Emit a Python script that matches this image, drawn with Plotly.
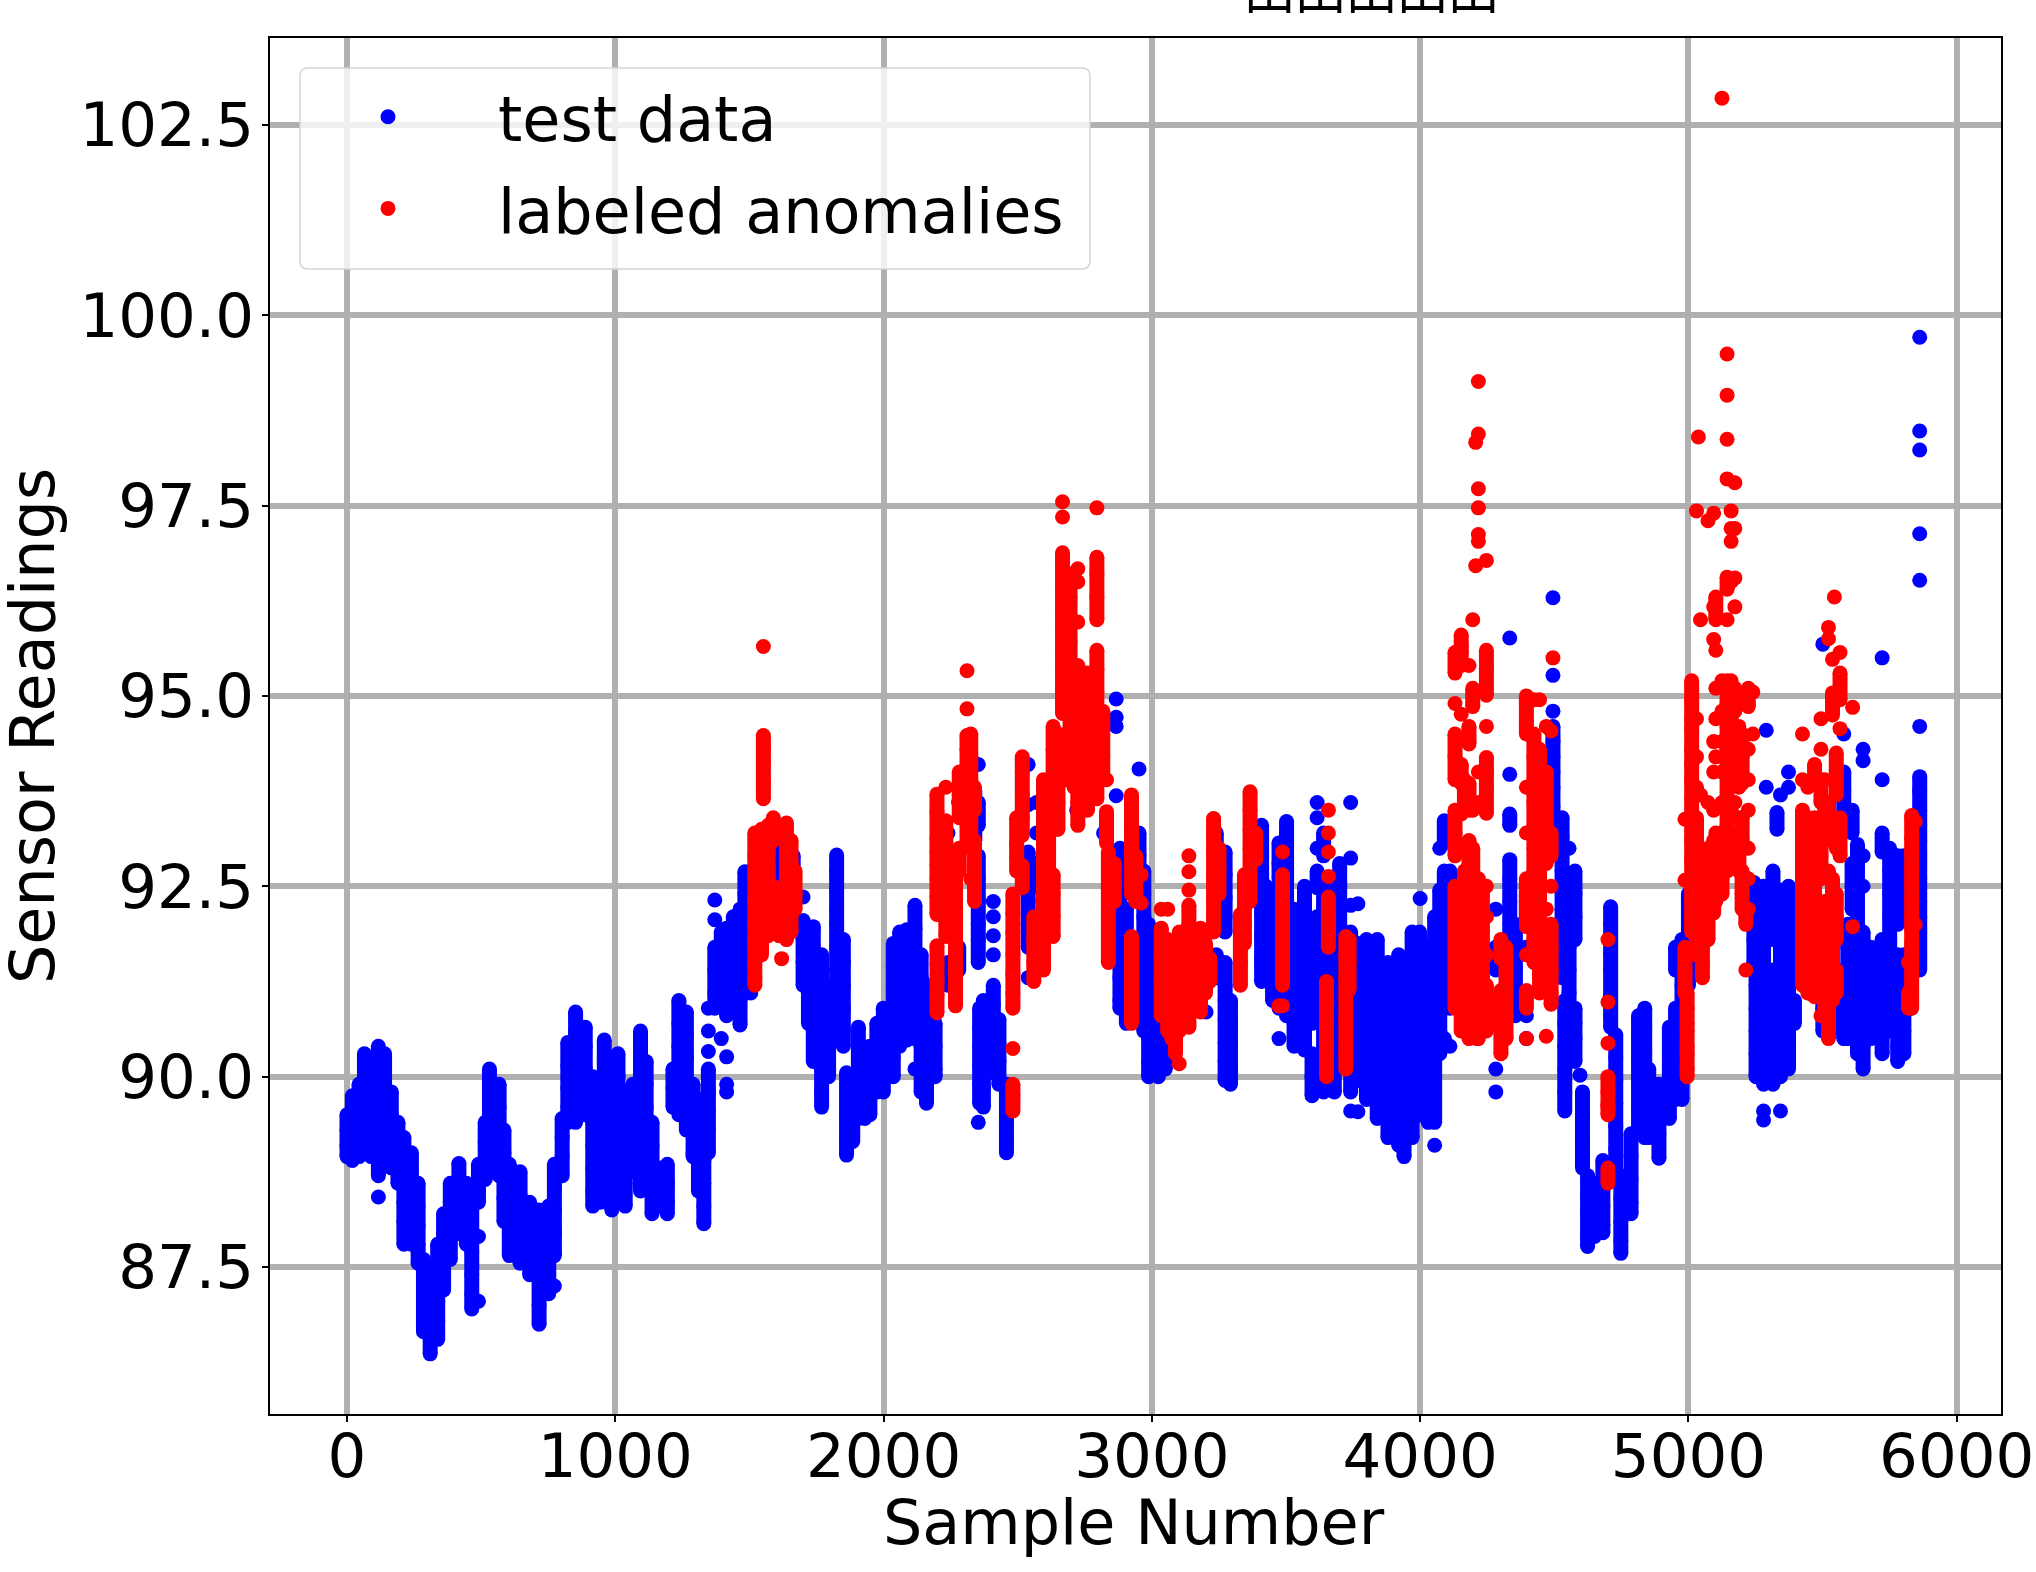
import plotly.graph_objects as go

# Values: (sample number, [sensor readings seen around that sample])
blue_a = [
(0,[89.5,89.3,89.1,88.95]),(20,[89.75,89.55,89.3,89.05,88.9]),(45,[89.9,89.65,89.4,89.15,88.95]),
(65,[90.3,90.05,89.8,89.55,89.3,89.1]),(90,[90.15,89.9,89.6,89.35,89.15,88.95]),
(117,[90.4,90.15,89.9,89.6,89.3,89.0,88.7]),(140,[90.3,90.05,89.75,89.45,89.15,88.9]),
(165,[89.8,89.5,89.25,89.0,88.8]),(190,[89.4,89.1,88.85,88.6]),(212,[89.2,88.9,88.6,88.35,88.1,87.8]),
(240,[89.0,88.75,88.5,88.25,88.0,87.8]),(265,[88.6,88.3,88.05,87.8,87.55]),(285,[87.6,87.35,87.1,86.85,86.65]),
(310,[87.2,87.0,86.8,86.6,86.36]),(338,[87.8,87.55,87.3,87.05,86.8,86.55]),(360,[88.2,87.95,87.7,87.45,87.2]),
(385,[88.6,88.35,88.1,87.85,87.6]),(417,[88.86,88.6,88.35,88.1,87.94]),(445,[88.6,88.35,88.1,87.8]),
(465,[88.3,88.0,87.7,87.4,87.15,86.95]),(490,[88.85,88.6,88.35,87.9,87.05]),(515,[89.4,89.15,88.9,88.65]),
(531,[90.1,89.85,89.6,89.35,89.1]),(567,[89.9,89.6,89.3,89.0,88.7]),(585,[89.3,89.0,88.7,88.4,88.1]),
(605,[88.85,88.55,88.25,87.95,87.65]),(645,[88.75,88.45,88.15,87.85,87.55]),(681,[88.35,88.05,87.75,87.4]),
(716,[88.25,87.95,87.65,87.35,87.0,86.75]),(752,[88.3,88.0,87.7,87.4,87.15]),(773,[88.85,88.55,88.25,87.95,87.65,87.25]),
(802,[89.45,89.2,88.95,88.7]),(823,[90.45,90.15,89.85,89.6,89.4]),(852,[90.85,90.6,90.3,90.0,89.7,89.4]),
(888,[90.65,90.4,90.1,89.8,89.5]),(916,[90.0,89.7,89.4,89.1,88.8,88.5,88.3]),(945,[89.6,89.3,89.0,88.7,88.35]),
(959,[90.48,90.2,89.95,89.7]),(987,[89.8,89.5,89.2,88.9,88.6,88.25]),
]
blue_b = [
(1010,[90.3,90.0,89.7,89.4,89.1,88.85,88.4]),(1037,[89.8,89.5,89.2,88.9,88.6,88.3]),(1065,[89.9,89.6,89.3,89.0,88.75]),
(1094,[90.6,90.3,90.0,89.7,89.4,89.1,88.85,88.5]),(1115,[90.2,89.9,89.6,89.3,89.0,88.7]),(1137,[89.4,89.1,88.8,88.5,88.2]),
(1165,[88.8,88.55,88.3]),(1194,[88.85,88.6,88.35,88.2]),(1215,[90.1,89.85,89.6]),(1237,[91.0,90.7,90.4,90.1,89.8,89.5]),
(1265,[90.85,90.55,90.25,89.95,89.65,89.3]),(1290,[89.9,89.6,89.3,89.0,88.95]),(1310,[89.7,89.4,89.1,88.8,88.5]),
(1330,[89.5,89.2,88.9,88.6,88.3,88.07]),(1347,[90.1,89.8,89.56,89.3,89.0]),
(1371,[91.7,91.4,91.1,90.9]),(1395,[91.9,91.6,91.3,91.0]),(1415,[91.95,91.65,91.35,91.05,90.8]),
(1440,[92.1,91.8,91.5,91.2,90.9]),(1465,[92.2,91.9,91.6,91.3,91.0,90.68]),(1483,[92.69,92.4,92.1,91.8,91.5,91.2]),
(1505,[92.7,92.4,92.1,91.8,91.5,91.1]),(1610,[92.95,92.6,92.3]),(1663,[92.9,92.6,92.3,92.0]),
(1700,[92.05,91.8,91.5,91.2]),(1720,[91.9,91.6,91.3,91.0,90.7]),(1738,[91.97,91.7,91.4,91.1,90.8,90.5,90.2]),
(1769,[91.6,91.3,91.0,90.7,90.4,90.1,89.8,89.6]),(1795,[91.2,90.9,90.6,90.3,90.0]),
(1825,[92.91,92.7,92.45,92.2,92.0,91.7,91.4,91.1,90.8,90.5]),(1850,[91.8,91.5,91.2,90.9,90.6,90.4]),
(1862,[90.05,89.75,89.45,89.2,88.97]),(1885,[90.0,89.7,89.4,89.15]),(1906,[90.65,90.35,90.05,89.75,89.45]),
(1930,[90.2,89.9,89.6,89.45]),(1949,[90.4,90.1,89.8,89.5]),(1975,[90.7,90.4,90.1,89.8]),(1999,[90.9,90.6,90.3,90.0,89.8]),
]
blue_c = [
(2036,[91.75,91.45,91.15,90.85,90.55,90.25,90.0]),(2060,[91.9,91.6,91.3,91.0,90.7,90.4]),
(2086,[91.93,91.65,91.35,91.05,90.75,90.48]),(2117,[92.25,91.95,91.65,91.35,91.05,90.75,90.5,90.1]),
(2140,[91.6,91.3,91.0,90.7,90.4,90.1,89.8]),(2160,[91.2,90.9,90.6,90.3,90.0,89.65]),(2192,[90.7,90.4,90.1,90.0]),
(2240,[91.5,91.2]),(2280,[91.7,91.4]),(2340,[93.75,93.4,93.1]),
(2353,[93.6,93.3,92.9,92.6,92.3,92.0,91.8,91.5]),(2358,[90.9,90.65,90.4,90.15,89.9,89.65]),
(2372,[91.0,90.7,90.4,90.1,89.85,89.6]),(2390,[90.95,90.6,90.3,90.05]),
(2409,[91.2,90.95,90.6,90.35]),(2430,[90.75,90.45,90.2,89.9]),
(2458,[89.9,89.65,89.4,89.15,89.0]),(2539,[92.95,92.6,92.3,92.0,91.7]),
(2570,[93.6,93.2,92.8,92.5,92.1,91.7]),(2640,[93.9,93.5]),(2720,[93.5]),(2820,[93.2]),
(2881,[93.0,92.75,92.5,92.2,91.9,91.6,91.3,91.0,90.9]),
(2905,[92.2,91.9,91.6,91.3,91.0,90.7]),(2952,[93.2,92.9,92.6,92.3]),
(2970,[92.7,92.4,92.1,91.8,91.5,91.2,90.9,90.6]),(2988,[92.0,91.7,91.4,91.1,90.8,90.5,90.2,90.0]),
]
blue_d = [
(3024,[91.7,91.4,91.1,90.8,90.5,90.2,90.0]),(3050,[91.7,91.2,90.9,90.6,90.3,90.1]),(3110,[91.6,90.7]),
(3202,[91.5,90.85]),(3240,[93.2,92.9,91.6,91.3]),
(3273,[92.95,92.65,92.35,92.1,91.9,91.5,91.2,91.0,90.75,90.45,90.2,89.95]),(3293,[91.0,90.7,90.4,90.15,89.9]),
(3409,[93.3,93.0,92.75,92.45,92.15,91.85,91.55,91.25]),(3426,[92.5,92.2,91.9,91.6,91.3]),
(3450,[92.45,92.15,91.85,91.55,91.3,91.0]),(3474,[93.07,92.8,92.6,92.1,91.8,91.5,91.2,90.9]),
(3502,[93.35,93.2,92.9,92.6,92.3,92.0,91.7,91.4,91.1,90.8]),(3530,[92.2,91.9,91.6,91.3,91.0,90.7,90.4]),
(3569,[92.5,92.2,91.9,91.75,91.45,91.15,90.85,90.55,90.35]),(3597,[91.6,91.3,91.0,90.7,90.3,90.0,89.75]),
(3616,[92.7,92.48,92.1,91.8,91.5]),(3640,[93.2,92.9,92.5,92.2,91.9,91.6,91.3,91.0,90.7,90.4,90.1,89.8]),
(3680,[92.5,92.2,91.9,91.6,91.3,91.0,90.7,90.4,90.1,89.8]),(3700,[92.8,92.5,92.2,91.9,91.6,91.3,91.0,90.7,90.4]),
(3741,[91.9,91.6,91.3,91.0,90.7,90.4,90.1,89.8]),
(3768,[91.75,91.45,91.15,90.85,90.55,90.25,89.95]),(3800,[91.8,91.5,91.2,90.9,90.6,90.3,90.0,89.7]),
(3840,[91.8,91.5,91.2,90.9,90.6,90.3,90.0,89.7,89.45]),(3880,[91.5,91.2,90.9,90.6,90.3,90.0,89.7,89.4,89.2]),
(3920,[91.6,91.3,91.0,90.7,90.4,90.1,89.8,89.5,89.2,89.1]),(3940,[91.3,91.0,90.7,90.4,90.1,89.8,89.5,89.2,88.95]),
(3970,[91.9,91.6,91.3,91.0,90.7,90.4,90.1,89.8,89.5,89.2]),(3998,[91.9,91.6,91.3,91.0,90.7,90.4,90.1,89.8,89.5]),
]
blue_e = [
(4030,[91.7,91.4,91.1,90.8,90.5,90.2,89.9,89.6,89.4]),(4054,[92.1,91.8,91.5,91.2,90.9,90.6,90.3,90.0,89.7,89.4]),
(4073,[92.45,92.1,91.8,91.5,91.2,90.9,90.6,90.3]),(4090,[93.36,93.07,92.7,92.4,92.1,91.8,91.5,91.2,90.9,90.5]),
(4111,[93.3,92.7,92.4,91.8,91.5,91.2,90.9,90.4]),(4240,[91.1,90.8]),(4282,[92.2,91.7,91.4]),
(4334,[93.45,93.3,92.85,92.6,92.3,92.0,91.7]),(4355,[92.0,91.7,91.4,91.1,90.8]),(4396,[92.4,92.1,91.7]),
(4495,[94.6,94.4,94.2,94.0,93.8,93.55,93.2]),(4529,[93.4,93.15,93.0,92.7,92.5,92.2,91.9,91.6,91.3]),
(4555,[93.0,92.6,92.3,92.0,91.7,91.4,91.1,90.8,90.5]),(4577,[92.7,92.4,92.1,91.8,90.9,90.7,90.5,90.2]),
(4539,[91.0,90.7,90.4,90.1,89.8,89.55]),(4605,[89.8,89.5,89.2,89.0,88.8]),
(4624,[88.7,88.45,88.2,87.95,87.77]),(4650,[88.6,88.35,88.1,87.9]),(4681,[88.9,88.6,88.3,88.05,87.95]),
(4710,[92.23,92.0,91.75,91.6,91.4,91.05,90.8,90.65]),(4729,[90.55,90.25,89.95,89.65,89.35,89.05,88.8]),
(4748,[88.7,88.4,88.1,87.85,87.68]),(4786,[89.25,88.95,88.65,88.35,88.2]),(4814,[90.8,90.5,90.2,89.9,89.6,89.3]),
(4837,[90.9,90.6,90.3,90.0,89.7]),(4852,[90.1,89.8,89.5,89.2]),(4890,[89.9,89.6,89.25,88.93]),
(4929,[90.65,90.35,90.05,89.75,89.45]),(4952,[91.7,91.4,90.9,90.6,90.3,90.0,89.7]),
(4976,[91.8,91.5,91.2,90.9,90.6,90.3,90.0,89.7]),
]
blue_f = [
(5000,[92.4,92.1,91.8,91.5,91.2]),(5244,[92.55,92.3,92.0,91.8,91.5]),(5252,[91.8,91.5,91.2,90.9,90.6,90.3,90.0]),
(5280,[92.5,92.2,91.9,91.6,91.3,91.0,90.7,90.4,90.1,89.9]),
(5315,[92.7,92.4,92.1,91.8,91.4,91.1,90.8,90.5,90.2,89.9]),(5330,[93.47,93.25]),
(5343,[92.45,92.1,91.8,91.5,91.2,90.9,90.6,90.3,90.0]),(5373,[92.5,92.2,91.9,91.6,91.3,91.0,90.7,90.4,90.1]),
(5395,[92.3,91.9,91.5,91.0,90.7]),(5450,[91.4,91.1]),(5501,[92.0,91.6,91.2,90.9,90.6]),
(5530,[90.9,90.6]),(5579,[94.0,93.75,93.45,91.4,91.1,90.8,90.5]),(5594,[92.0,91.7,91.4,91.1,90.8,90.5]),
(5610,[93.5,93.2,92.8,92.5,92.2]),(5630,[93.05,92.75,92.45,92.15,91.85,91.5,91.2,90.9,90.6,90.3]),
(5651,[92.9,92.5,91.9,91.6,91.3,91.0,90.7,90.4,90.1]),(5680,[91.7,91.4,91.1,90.8,90.5]),
(5722,[93.2,92.95,91.8,91.5,91.2,90.9,90.6,90.3]),(5750,[93.0,92.7,92.4,92.1,91.8,91.5,91.2,90.9,90.6]),
(5780,[92.9,92.6,92.3,92.0,91.6,91.3,91.0,90.7,90.4,90.2]),(5803,[92.9,92.5,92.1,91.6,91.2,90.9,90.6,90.3]),
(5830,[92.2,91.6,91.2,90.9]),(5862,[93.94,93.75,93.5,93.3,93.1,92.9,92.6,92.3,92.1,91.9,91.6,91.4]),
]
# Separately visible single blue dots: samples and readings
blue_single_x = [117,1347,1347,1347,1371,1371,1395,1415,1415,1415,1700,2240,2280,2353,2353,2409,2409,2409,2409,2539,2539,2539,2867,2867,2867,2867,2952,3474,3616,3616,3616,3616,3741,3741,3741,3741,3768,3768,4000,4054,4073,4282,4282,4334,4334,4396,4396,4495,4495,4495,4596,4837,5280,5280,5290,5290,5343,5343,5373,5373,5450,5450,5501,5579,5651,5651,5722,5722,5862,5862,5862,5862,5862,5862]
blue_single_y = [88.42,90.9,90.6,90.33,92.32,92.06,90.5,90.26,89.9,89.8,92.36,93.2,93.6,94.1,89.4,92.3,92.1,91.85,91.6,94.1,93.57,91.3,94.96,94.72,94.6,93.69,94.04,90.5,93.6,93.4,93.0,89.9,93.6,92.87,92.25,89.55,92.27,89.54,92.34,89.1,93.0,90.1,89.8,95.76,93.97,90.8,90.5,96.29,95.27,94.8,90.02,89.2,89.55,89.43,94.55,93.8,93.7,89.55,94.0,93.8,93.3,92.4,95.68,94.5,94.3,94.15,95.5,93.9,99.71,98.48,98.23,97.13,96.52,94.6]

red_a = [
(1520,[93.2,92.9,92.6,92.3,92.0,91.75,91.5,91.3,91.2]),(1545,[93.25,92.95,92.65,92.35,92.05,91.8,91.6]),
(1552,[94.48,94.3,94.15,93.85,93.65]),(1570,[93.3,93.0,92.7,92.4,92.1,91.85]),(1589,[93.4,93.1,92.5,92.2,91.9]),
(1610,[92.4,92.1,91.85]),(1638,[93.33,93.0,92.7,92.4,92.1,91.8]),(1655,[93.1,92.8,92.5,92.2,91.9]),(1670,[92.7,92.4,92.2]),
]
red_b = [
(2199,[93.71,93.48,93.13,92.95,92.78,92.6,92.37,92.13,91.72,91.48,91.25,91.07,90.84]),
(2232,[93.8,93.36,93.07,92.8,92.5,92.2,91.84]),(2268,[92.95,92.65,92.37,92.07,91.78,91.55,91.25,91.13,90.93]),
(2282,[94.0,93.7,93.4,93.0,92.7]),(2311,[94.48,94.3,94.05,93.8,93.6,93.35,93.07]),
(2325,[94.5,94.2,93.9,93.6,93.3,93.0,92.6]),(2339,[93.8,93.5,93.1,92.75,92.48,92.3]),
(2482,[92.4,92.15,91.9,91.6,91.35,91.1,90.9,89.9,89.75,89.55]),(2496,[93.4,93.05,92.88,92.7]),
(2517,[94.2,94.0,93.7,93.4,93.17,92.77,92.48]),(2560,[92.1,91.8,91.5,91.25]),
(2596,[93.9,93.7,93.4,93.1,92.8,92.5,92.2,91.9,91.6,91.4]),(2615,[93.2,92.9,92.6,92.3,92.0]),
(2632,[94.6,94.3,94.0,93.6,92.65,92.4,92.1,91.84]),(2650,[94.5,94.2,93.9,93.6,93.25]),
(2667,[96.88,96.7,96.4,96.1,95.85,95.6,95.35,95.05,94.77]),(2680,[96.5,96.2,95.9,95.5,95.2,94.9,94.5,94.2,93.9]),
(2695,[96.6,96.3,96.0,95.7,95.4,95.1,94.8,94.5,94.2,93.9]),(2710,[95.4,95.1,94.8,94.5,94.2,93.8]),
(2724,[95.97,95.4,95.1,94.8,94.5,94.2,93.9,93.6,93.3]),(2745,[95.3,95.0,94.6,94.3,94.0,93.7]),(2760,[95.3,95.0,94.7,94.4,94.1,93.8,93.5]),
(2778,[95.2,94.9,94.5,94.2,93.9]),(2795,[96.82,96.6,96.3,96.0,95.6,95.35,95.05,94.75,94.45,94.15,93.85,93.65]),
(2817,[94.8,94.5,94.2,93.95]),(2831,[93.9,93.48,93.25,93.07]),(2838,[92.95,92.7,92.45,92.2,92.0,91.78,91.5]),
(2860,[92.8,92.5,92.3]),(2924,[93.7,93.48,93.25,93.0,92.85,92.6,92.4,91.84,91.55,91.25,91.0,90.7]),
(2940,[92.9,92.55,92.3]),(2960,[92.65,92.28]),
]
red_c = [
(3035,[91.95,91.6,91.3,91.0,90.8]),(3059,[91.8,91.5,91.2,90.9,90.6]),(3074,[91.7,91.4,91.1,90.8,90.5]),
(3088,[91.8,91.5,91.2,90.9,90.6,90.45,90.3]),(3102,[91.9,91.5,91.2,90.9,90.6]),(3120,[91.9,91.6,91.3,91.0,90.7]),
(3138,[92.25,92.0,91.7,91.4,91.1,90.8,90.65]),(3160,[91.8,91.5,91.2,90.9]),
(3181,[91.95,91.6,91.3,91.0,90.85]),(3200,[91.75,91.4,91.1]),(3216,[91.55,91.25]),(3230,[93.39,93.2,92.95,92.65,92.35,92.1,91.9]),
(3250,[93.0,92.7,92.4]),(3330,[92.13,91.8,91.5,91.2]),(3345,[92.65,92.35,92.0,91.75]),
(3366,[93.74,93.5,93.25,93.0,92.66,92.3]),(3387,[93.2,92.95,92.85]),
(3487,[92.65,92.43,92.2,91.9,91.7,91.4,91.2]),
(3658,[92.36,92.1,91.95,91.7]),(3651,[91.25,91.05,90.84,90.5,90.3,90.0]),
(3723,[91.84,91.6,91.3,91.0,90.75,90.45,90.3,90.1]),(3735,[91.8,91.5,91.15]),
]
red_d = [
(4130,[95.57,95.3,94.9,94.5,94.2,93.9,93.5,93.2,92.9,92.5,92.15,91.85,91.5,91.2,90.9]),
(4153,[95.8,95.65,95.57,95.4,94.1,93.85,93.45,92.5,92.2,91.8,91.5,91.2,90.85,90.6]),
(4165,[93.9,93.6,92.7,92.4,92.1,91.8,91.5,91.2,90.9,90.6]),
(4182,[95.4,94.6,94.37,93.85,93.5,93.1,92.9,92.55,92.3,92.0,91.7,91.4,91.1,90.8,90.5]),
(4196,[95.1,94.86,93.5,93.0,92.7,92.4,92.0,91.7,91.4,91.1,90.8]),
(4217,[94.0,93.6,92.6,92.2,91.9,91.6,91.3,91.0,90.7,90.5]),(4232,[92.5,92.2,91.9,91.6,91.3,91.0,90.7]),
(4247,[95.6,95.36,95.01,94.6,94.19,94.0,93.8,93.46,92.5,92.1,91.6,91.2,90.9,90.6]),
(4301,[91.8,91.55,91.13,90.85,90.6,90.3]),(4320,[91.7,91.4,91.1,90.8,90.5]),
(4396,[95.0,94.65,94.5,93.8,92.6,92.3,91.97,91.6,91.13,90.9]),(4424,[94.95,94.5,94.2,93.9,93.6,93.3,93.0,92.7,92.4,92.1,91.8,91.5]),
(4445,[94.95,94.3,94.0,93.7,93.45,93.15,92.85,92.55,92.25,91.95,91.6,91.3,91.1]),(4470,[94.6,94.0,93.7,93.4,93.1,92.8,92.2,91.8,91.5,91.2]),
(4488,[94.54,93.2,92.9,92.5,92.0,91.7,91.4,91.1,90.95]),
]
red_e = [
(4700,[90.0,89.8,89.63,89.5,88.8,88.6]),
(4995,[91.1,90.9,90.7,90.6,90.4,90.3,90.1,90.0]),
(4987,[91.7,91.4,91.1]),(5012,[95.2,94.95,94.7,94.57,94.3,94.1,93.9,93.65,93.4,93.1,92.85,92.55,92.3,92.05,91.9]),
(5030,[94.7,94.2,93.8,93.4,93.1,92.8,92.5,92.2,91.95,91.6]),(5045,[93.7,92.9,92.3]),
(5052,[92.0,91.7,91.5,91.3]),(5073,[93.6,93.0,92.7,92.4,92.1,91.8]),(5094,[94.4,94.0,93.5,93.1,92.7,92.4,92.15]),
(5102,[96.3,96.0,95.6,95.1,94.7,94.2,93.2,92.8,92.5,92.3]),(5125,[95.2,94.8,94.4,94.0,93.6,93.2,92.9,92.6,92.4]),
(5144,[96.56,96.4,96.0,95.2,94.9,94.6,94.3,94.0,93.65,93.3,92.95,92.7]),
(5159,[95.2,94.8,94.5,94.2,93.9,93.5,93.1,92.8]),(5173,[95.1,94.8,94.4,94.0,93.6,93.2,92.9]),
(5188,[95.0,94.6,94.2,93.8,93.4,93.0,92.7]),(5200,[94.95,94.5,94.2,93.85,93.4,93.1,92.7,92.4,92.2]),(5214,[92.2,92.0]),(5223,[95.1,94.86,94.3,93.9,93.5,93.0,92.6,92.2]),
(5240,[95.05,94.5]),
]
red_f = [
(5425,[93.9,93.5,93.25,92.9,92.6,92.3,92.1,91.8,91.5,91.2]),(5445,[93.8,93.4,93.05,92.7,92.4,92.0,91.7,91.4,91.1]),
(5470,[94.1,93.85,93.4,93.1,92.8,92.45,92.2,91.9,91.6,91.3,91.05]),(5494,[94.7,94.3,93.9,93.6,93.2,92.9,92.6,92.2,91.9,91.5,91.2,90.8]),
(5508,[93.9,93.5,93.1,92.3,92.0,91.6,91.2,90.9]),(5522,[93.6,93.25,92.7,92.3,91.9,91.6,91.3,91.0,90.7,90.5]),(5537,[95.04,94.75,92.6,92.3,92.0,91.7,91.4,91.0]),
(5551,[94.25,94.0,93.7,93.3,93.0,92.4,92.1,91.8,91.4,91.1]),
(5565,[95.3,94.95,94.57,93.4,93.15,92.9]),
(5820,[91.5,91.1,90.9]),(5832,[93.43,93.13,92.93,92.75,92.58,92.3,92.15,91.95,91.75,91.5,91.3,91.1,90.9]),
(5845,[93.35,92.0]),
]
# Separately visible single red dots: samples and readings
red_single_x = [1552,1620,2311,2311,2482,2646,2667,2667,2724,2724,2795,3035,3059,3102,3138,3138,3138,3474,3487,3487,3658,3658,3658,3658,4153,4196,4207,4207,4217,4217,4217,4217,4217,4217,4247,4212,4396,4396,4470,4495,4700,4700,4700,4700,4987,4987,5030,5037,5045,5073,5094,5094,5094,5125,5144,5144,5144,5144,5159,5159,5159,5159,5173,5173,5173,5173,5214,5425,5522,5522,5537,5544,5565,5612,5612]
red_single_y = [95.65,91.55,95.33,94.83,90.37,93.25,97.55,97.35,96.67,96.5,97.47,92.2,92.2,90.17,92.9,92.69,92.45,90.93,92.95,90.93,93.5,93.2,92.95,92.63,94.76,96.0,96.71,98.33,99.13,98.44,97.72,97.47,97.12,97.03,96.78,90.5,93.2,90.5,90.53,95.5,91.8,90.98,90.44,89.6,93.38,92.58,97.43,98.4,96.0,97.3,97.4,96.17,95.74,102.85,99.49,98.95,98.37,97.85,97.43,97.2,97.03,96.5,97.8,97.2,96.55,96.17,91.4,94.5,95.9,95.75,95.48,96.3,95.57,94.85,91.97]

tick_x = [0,1000,2000,3000,4000,5000,6000]
tick_y = [87.5,90.0,92.5,95.0,97.5,100.0,102.5]
legend_names = ["test data","labeled anomalies"]
x_label = "Sample Number"
y_label = "Sensor Readings"
title_text = "田田田田田"

def flatten(*blocks):
    xs, ys = [], []
    for block in blocks:
        for x, vals in block:
            for v in vals:
                xs.append(x); ys.append(v)
    return xs, ys

def runs(*blocks, gap=0.36):
    """Join neighbouring readings of one sample region, as the dense samples do in the picture."""
    xs, ys = [], []
    for block in blocks:
        for x, vals in block:
            vals = sorted(vals, reverse=True)
            for a, b in zip(vals, vals[1:]):
                if a - b <= gap:
                    xs += [x, x, None]; ys += [a, b, None]
    return xs, ys

BLUE, RED = "#0000ff", "#ff0000"
blue_groups = (blue_a, blue_b, blue_c, blue_d, blue_e, blue_f)
red_groups = (red_a, red_b, red_c, red_d, red_e, red_f)
blue_x, blue_y = flatten(*blue_groups)
red_x, red_y = flatten(*red_groups)
blue_x += blue_single_x; blue_y += blue_single_y
red_x += red_single_x; red_y += red_single_y
blue_rx, blue_ry = runs(*blue_groups)
red_rx, red_ry = runs(*red_groups)

W, H = 2036, 1572
L, R, T, B = 270, 2001, 38, 1414
font = "DejaVu Sans"

fig = go.Figure()
fig.add_trace(go.Scatter(x=blue_rx, y=blue_ry, mode="lines", showlegend=False, hoverinfo="skip",
                         line=dict(color=BLUE, width=15), connectgaps=False))
fig.add_trace(go.Scatter(x=blue_x, y=blue_y, mode="markers", name=legend_names[0], legendgroup="a",
                         marker=dict(color=BLUE, size=15, line=dict(width=0))))
fig.add_trace(go.Scatter(x=red_rx, y=red_ry, mode="lines", showlegend=False, hoverinfo="skip",
                         line=dict(color=RED, width=15), connectgaps=False))
fig.add_trace(go.Scatter(x=red_x, y=red_y, mode="markers", name=legend_names[1], legendgroup="b",
                         marker=dict(color=RED, size=15, line=dict(width=0))))

def px(x): return (x - L) / (R - L)
def py(y): return (B - y) / (B - T)
x0, x1, y0, y1, r = px(300), px(1090), py(269), py(68), 8 / (R - L)
ry = 8 / (B - T)
box = (f"M {x0+r} {y0} L {x1-r} {y0} Q {x1} {y0} {x1} {y0+ry} L {x1} {y1-ry} Q {x1} {y1} {x1-r} {y1} "
       f"L {x0+r} {y1} Q {x0} {y1} {x0} {y1-ry} L {x0} {y0+ry} Q {x0} {y0} {x0+r} {y0} Z")

axis = dict(automargin=False, showline=True, linecolor="#000000", linewidth=1.5, mirror=True, ticks="outside", ticklen=6,
            tickwidth=1.5, tickcolor="#000000", showgrid=True, gridcolor="#b0b0b0", gridwidth=5.5, zeroline=False,
            tickfont=dict(family=font, size=61, color="#000000"))
label_font = dict(family=font, size=62, color="#000000")

fig.update_layout(
    width=W, height=H, autosize=False, paper_bgcolor="#ffffff", plot_bgcolor="#ffffff",
    margin=dict(l=L, r=W-R, t=T, b=H-B, pad=0),
    font=dict(family=font, color="#000000"),
    xaxis=dict(axis, range=[-287, 6165], tickmode="array", tickvals=tick_x, ticktext=[str(v) for v in tick_x],
               ticklabelstandoff=-18),
    yaxis=dict(axis, range=[85.57, 103.64], tickmode="array", tickvals=tick_y, ticktext=[f"{v:.1f}" for v in tick_y],
               ticklabelstandoff=-4),
    legend=dict(x=px(278), y=py(70), xanchor="left", yanchor="top", bgcolor="rgba(0,0,0,0)", borderwidth=0,
                font=dict(family=font, size=62, color="#000000"), itemwidth=210, tracegroupgap=8,
                itemsizing="trace"),
    shapes=[dict(type="path", path=box, xref="paper", yref="paper", layer="above",
                 fillcolor="rgba(255,255,255,0.8)", line=dict(color="#d5d5d5", width=1.5))],
    annotations=[
        dict(text=title_text, xref="paper", yref="paper", x=px(1371), y=py(26), xanchor="center", yanchor="bottom",
             showarrow=False, font=dict(family="Noto Sans CJK SC", size=51, color="#000000")),
        dict(text=x_label, xref="paper", yref="paper", x=px(1134), y=py(1522), xanchor="center", yanchor="middle",
             showarrow=False, font=label_font),
        dict(text=y_label, xref="paper", yref="paper", x=px(32), y=py(726), xanchor="center", yanchor="middle",
             textangle=-90, showarrow=False, font=label_font),
    ],
)
fig.write_html("out.html", config=dict(displayModeBar=False),
               post_script="document.body.style.margin='0';document.body.style.overflow='hidden';")
